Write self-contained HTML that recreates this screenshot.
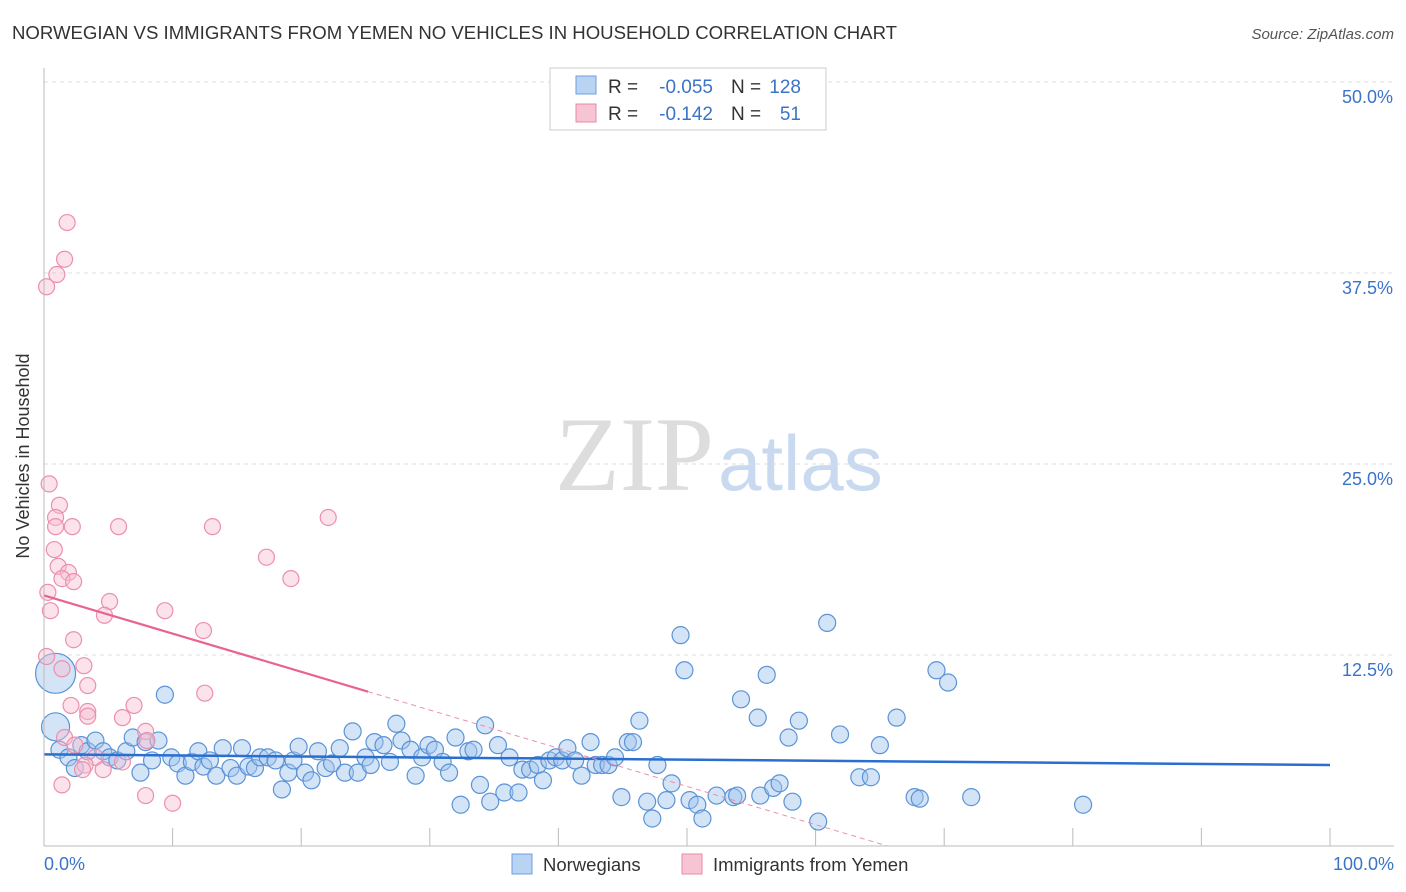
<!DOCTYPE html>
<html><head><meta charset="utf-8"><style>
body{margin:0;background:#fff;font-family:"Liberation Sans",sans-serif;}
svg{display:block}
</style></head><body>
<svg id="chart" width="1406" height="892">
<text x="12" y="39" font-size="18.6" fill="#333">NORWEGIAN VS IMMIGRANTS FROM YEMEN NO VEHICLES IN HOUSEHOLD CORRELATION CHART</text>
<text x="1394" y="39" font-size="15" fill="#555" font-style="italic" text-anchor="end">Source: ZipAtlas.com</text>
<text x="29" y="456" font-size="18" fill="#333" text-anchor="middle" transform="rotate(-90 29 456)">No Vehicles in Household</text>
<text x="714" y="490" font-size="106" fill="#ddd" text-anchor="end" font-family="Liberation Serif">ZIP</text>
<text x="718" y="490" font-size="78" fill="#c9daf0">atlas</text>
<g id="grid"></g><g id="marks"></g>
<line x1="44" y1="68" x2="44" y2="846" stroke="#bbb"/>
<line x1="44" y1="846" x2="1394" y2="846" stroke="#bbb"/>
<text x="44" y="870" font-size="18" fill="#3b73c9">0.0%</text>
<text x="1394" y="870" font-size="18" fill="#3b73c9" text-anchor="end">100.0%</text>
<g font-size="19">
<rect x="550" y="68" width="276" height="62" fill="#fff" stroke="#ccc"/>
<rect x="576" y="76" width="20" height="18" fill="#b9d3f3" stroke="#6f9fdc"/>
<rect x="576" y="104" width="20" height="18" fill="#f7c4d4" stroke="#e88aa8"/>
<text x="608" y="93" fill="#333">R =</text>
<text x="713" y="93" fill="#3b73c9" text-anchor="end">-0.055</text>
<text x="731" y="93" fill="#333">N =</text>
<text x="801" y="93" fill="#3b73c9" text-anchor="end">128</text>
<text x="608" y="120" fill="#333">R =</text>
<text x="713" y="120" fill="#3b73c9" text-anchor="end">-0.142</text>
<text x="731" y="120" fill="#333">N =</text>
<text x="801" y="120" fill="#3b73c9" text-anchor="end">51</text>
</g>
<g>
<rect x="512" y="854" width="20" height="20" fill="#b9d3f3" stroke="#6f9fdc"/>
<text x="543" y="871" font-size="18.5" fill="#333">Norwegians</text>
<rect x="682" y="854" width="20" height="20" fill="#f7c4d4" stroke="#e88aa8"/>
<text x="713" y="871" font-size="18.5" fill="#333">Immigrants from Yemen</text>
</g>
</svg>
<script>
const yTicks=[12.5,25,37.5,50];
const xTicks=[10,20,30,40,50,60,70,80,90,100];
const blueX=[0.9,0.9,1.2,1.9,2.4,2.9,3.4,4.0,4.6,5.1,5.7,6.4,6.9,7.5,7.9,8.4,8.9,9.4,9.9,10.4,11.0,11.5,12.0,12.4,12.9,13.4,13.9,14.5,15.0,15.4,15.9,16.4,16.8,17.4,18.0,18.5,19.0,19.4,19.8,20.3,20.8,21.3,21.9,22.4,23.0,23.4,24.0,24.4,25.0,25.4,25.7,26.4,26.9,27.4,27.8,28.5,28.9,29.4,29.9,30.4,31.0,31.5,32.0,32.4,33.0,33.4,33.9,34.3,34.7,35.3,35.8,36.2,36.9,37.2,37.8,38.4,38.8,39.3,39.8,40.3,40.7,41.3,41.8,42.5,42.9,43.4,43.9,44.4,44.9,45.4,45.8,46.3,46.9,47.3,47.7,48.4,48.8,49.5,49.8,50.2,50.8,51.2,52.3,53.6,53.9,54.2,55.5,55.7,56.2,56.7,57.2,57.9,58.2,58.7,60.2,60.9,61.9,63.4,64.3,65.0,66.3,67.7,68.1,69.4,70.3,72.1,80.8];
const blueY=[11.3,7.8,6.3,5.8,5.1,6.6,6.2,6.9,6.2,5.8,5.6,6.2,7.1,4.8,6.8,5.6,6.9,9.9,5.8,5.4,4.6,5.5,6.2,5.2,5.6,4.6,6.4,5.1,4.6,6.4,5.2,5.1,5.8,5.8,5.6,3.7,4.8,5.6,6.5,4.8,4.3,6.2,5.1,5.4,6.4,4.8,7.5,4.8,5.8,5.3,6.8,6.6,5.5,8.0,6.9,6.3,4.6,5.8,6.6,6.3,5.5,4.8,7.1,2.7,6.2,6.3,4.0,7.9,2.9,6.6,3.5,5.8,3.5,5.0,5.0,5.3,4.3,5.6,5.8,5.6,6.4,5.6,4.6,6.8,5.3,5.3,5.3,5.8,3.2,6.8,6.8,8.2,2.9,1.8,5.3,3.0,4.1,13.8,11.5,3.0,2.7,1.8,3.3,3.2,3.3,9.6,8.4,3.3,11.2,3.8,4.1,7.1,2.9,8.2,1.6,14.6,7.3,4.5,4.5,6.6,8.4,3.2,3.1,11.5,10.7,3.2,2.7];
const pinkX=[1.8,1.6,1.0,0.2,0.4,1.2,0.9,0.9,2.2,0.8,1.1,1.9,1.4,2.3,0.3,0.5,5.1,4.7,2.3,0.2,3.1,1.4,3.4,2.1,3.4,3.4,7.0,6.1,7.9,1.6,8.0,2.4,4.0,3.2,3.0,4.6,6.1,1.4,7.9,10.0,5.8,13.1,22.1,17.3,19.2,9.4,12.4,12.5];
const pinkY=[40.8,38.4,37.4,36.6,23.7,22.3,21.5,20.9,20.9,19.4,18.3,17.9,17.5,17.3,16.6,15.4,16.0,15.1,13.5,12.4,11.8,11.6,10.5,9.2,8.8,8.5,9.2,8.4,7.5,7.1,6.9,6.6,5.8,5.3,5.0,5.0,5.5,4.0,3.3,2.8,20.9,20.9,21.5,18.9,17.5,15.4,14.1,10.0];
const blueTrend=[6.0,5.3];
const pinkTrend=[16.4,-0.25];
const sx=v=>44+v*12.86, sy=v=>846-v*15.28;
const NS='http://www.w3.org/2000/svg';
const grid=document.getElementById('grid'), marks=document.getElementById('marks');
function mk(tag,attrs,parent){const e=document.createElementNS(NS,tag);for(const k in attrs)e.setAttribute(k,attrs[k]);parent.appendChild(e);return e;}
yTicks.forEach(t=>{
 const l=mk('line',{x1:44,x2:1394,y1:sy(t),y2:sy(t),stroke:'#ddd','stroke-dasharray':'4,4'},grid);
 
 
 const tx=mk('text',{x:1393,y:sy(t)+21,'font-size':18,fill:'#3b73c9','text-anchor':'end'},grid);
 tx.textContent=t.toFixed(1)+'%';
 
 
});
xTicks.forEach(t=>{
 const l=mk('line',{x1:sx(t),x2:sx(t),y1:828,y2:846,stroke:'#bbb'},grid);
 
 
});
blueX.forEach((x,i)=>{
 const r=i<2?(i==0?20:14):8.5;
 const c=mk('circle',{cx:sx(x),cy:sy(blueY[i]),r:r,fill:'rgba(160,196,238,0.45)',stroke:'#5b93d6','stroke-width':1.2},marks);
 
 
});
pinkX.forEach((x,i)=>{
 const c=mk('circle',{cx:sx(x),cy:sy(pinkY[i]),r:8,fill:'rgba(247,190,210,0.45)',stroke:'#ec8fae','stroke-width':1.2},marks);
 
 
});
const bl=mk('line',{x1:sx(0),y1:sy(blueTrend[0]),x2:sx(100),y2:sy(blueTrend[1]),stroke:'#2a6fd0','stroke-width':2.5},marks);


const pe=25.2, pz=-pinkTrend[0]/pinkTrend[1];
const pl=mk('line',{x1:sx(0),y1:sy(pinkTrend[0]),x2:sx(pe),y2:sy(pinkTrend[0]+pinkTrend[1]*pe),stroke:'#e8648f','stroke-width':2.2},marks);


const pd=mk('line',{x1:sx(pe),y1:sy(pinkTrend[0]+pinkTrend[1]*pe),x2:sx(pz),y2:sy(0),stroke:'#ec8fae','stroke-width':1,'stroke-dasharray':'5,4'},marks);


</script>
</body></html>
